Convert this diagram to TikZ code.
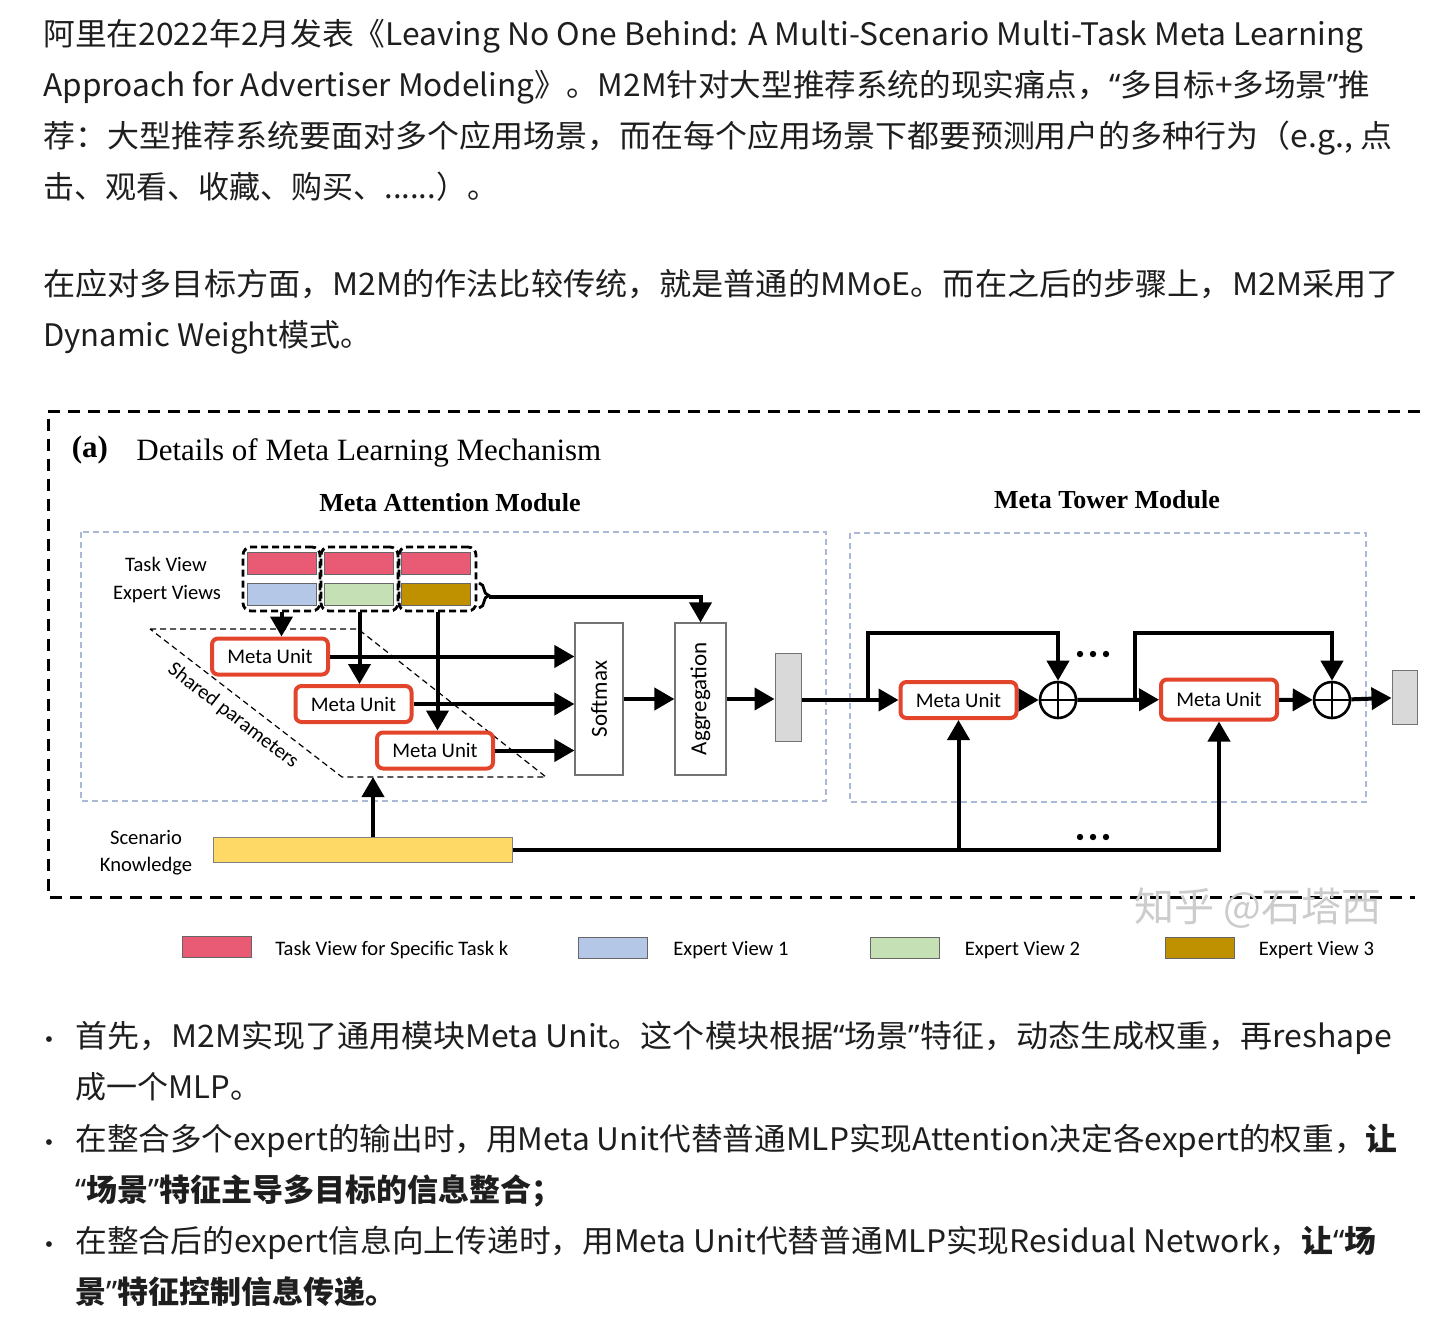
\documentclass[tikz,border=0pt]{standalone}
\usepackage{fontspec}
\usepackage{graphicx}
\setmainfont{Liberation Serif}
\newfontfamily\cjk{Noto Sans CJK SC}
\newfontfamily\latinq{Noto Sans}
\newfontfamily\carlito{Carlito}
\usetikzlibrary{arrows.meta, decorations.pathreplacing, positioning, calc}
\definecolor{taskpink}{HTML}{E95B74}
\definecolor{expblue}{HTML}{B4C7E7}
\definecolor{expgreen}{HTML}{C5E0B4}
\definecolor{expgold}{HTML}{BF9000}
\definecolor{scenyellow}{HTML}{FFD966}
\definecolor{unitred}{HTML}{E2452C}
\definecolor{modblue}{HTML}{A9B9D6}
\definecolor{bargray}{HTML}{D9D9D9}
\definecolor{inktext}{HTML}{1E1E1E}
\newcommand{\fitline}[2]{\resizebox{#1}{\height}{#2}}
\newcommand{\oq}{{\latinq“}}
\newcommand{\cq}{{\latinq”}}

\begin{document}
\begin{tikzpicture}[
  x=0.5pt, y=-0.5pt,
  node distance=12pt,
  para/.style={anchor=base west, inner sep=0pt, text=inktext,
               font=\cjk\fontsize{15.5pt}{18pt}\selectfont},
  dotmark/.style={anchor=base, inner sep=0pt, text=inktext,
                  font=\fontsize{12pt}{12pt}\selectfont},
  lab/.style={font=\carlito\fontsize{10.3pt}{13.5pt}\selectfont,
              inner sep=0pt, align=center},
  view/.style={draw=black!60, line width=0.4pt, minimum width=34.5pt,
               minimum height=11pt, inner sep=0pt},
  viewgroup/.style={draw, line width=1.4pt, dash pattern=on 3.5pt off 2pt,
                    rounded corners=4pt, minimum width=38.5pt,
                    minimum height=32pt, inner sep=0pt},
  unit/.style={draw=unitred, line width=2pt, fill=white, rounded corners=3pt,
               minimum width=58pt, minimum height=18pt, inner sep=0pt,
               font=\carlito\fontsize{10.4pt}{12pt}\selectfont},
  stage/.style={draw=black!55, line width=0.6pt, rotate=90,
                minimum width=76pt, inner sep=0pt,
                font=\carlito\fontsize{11.5pt}{13pt}\selectfont},
  bar/.style={draw=black!55, line width=0.5pt, fill=bargray, inner sep=0pt},
  addop/.style={circle, draw, line width=1.3pt, minimum size=18pt,
                inner sep=0pt,
                path picture={\draw[line width=1.3pt]
                  (path picture bounding box.north) -- (path picture bounding box.south)
                  (path picture bounding box.west) -- (path picture bounding box.east);}},
  arr/.style={-{Triangle[length=10pt,width=11pt]}, line width=2pt},
  modbox/.style={draw=modblue, line width=0.6pt, dash pattern=on 3pt off 2pt},
  outerframe/.style={line width=1.5pt, dash pattern=on 6pt off 4pt},
  legendbox/.style={draw=black!60, line width=0.4pt, minimum width=34.5pt,
                    minimum height=10.5pt, inner sep=0pt}
]
\fill[white] (0,0) rectangle (1450,1342);
\useasboundingbox (0,0) rectangle (1450,1342);

% first paragraph
\node[para] (p1a) at (43,45.5) {\fitline{660pt}{阿里在2022年2月发表《Leaving No One Behind: A Multi-Scenario Multi-Task Meta Learning}};
\node[para] (p1b) at (43,96.5) {\fitline{663.5pt}{Approach for Advertiser Modeling》。M2M针对大型推荐系统的现实痛点，\oq 多目标+多场景\cq 推}};
\node[para] (p1c) at (43,147.5) {\fitline{674.5pt}{荐：大型推荐系统要面对多个应用场景，而在每个应用场景下都要预测用户的多种行为（e.g., 点}};
\node[para] (p1d) at (43,198.5) {击、观看、收藏、购买、......）。};

% second paragraph
\node[para] (p2a) at (43,295.5) {\fitline{677.5pt}{在应对多目标方面，M2M的作法比较传统，就是普通的MMoE。而在之后的步骤上，M2M采用了}};
\node[para] (p2b) at (43,346.5) {Dynamic Weight模式。};

% figure frame and titles
\draw[outerframe] (1420,411) -- (48,411) -- (48,897) -- (1415,897);
\node[inner sep=0pt, font=\bfseries\fontsize{15.5pt}{18pt}\selectfont] (tag) at (90,450) {(a)};
\node[anchor=west, inner sep=0pt, font=\fontsize{15.5pt}{18pt}\selectfont] (title) at (136,453) {Details of Meta Learning Mechanism};
\node[inner sep=0pt, font=\bfseries\fontsize{13pt}{15pt}\selectfont] (mam) at (450,503) {Meta Attention Module};
\node[inner sep=0pt, font=\bfseries\fontsize{13pt}{15pt}\selectfont] (mtm) at (1107,500) {Meta Tower Module};
\draw[modbox] (81,532) rectangle (826,801);
\draw[modbox] (850,533) rectangle (1366,802);

% task / expert views
\node[lab] (tvl) at (166,564) {Task View};
\node[lab] (evl) at (167,594) {Expert Views};
\node[view, fill=taskpink] (t1) at (281.5,563) {};
\node[view, fill=taskpink] (t2) at (358.5,563) {};
\node[view, fill=taskpink] (t3) at (436,563) {};
\node[view, fill=expblue] (e1) at (281.5,594.5) {};
\node[view, fill=expgreen] (e2) at (358.5,594.5) {};
\node[view, fill=expgold] (e3) at (436,594.5) {};
\node[viewgroup] (g1) at (281.5,579) {};
\node[viewgroup] (g2) at (359.5,579) {};
\node[viewgroup] (g3) at (437.5,579) {};
\draw[decorate, decoration={brace, amplitude=5pt}, line width=1.4pt] (479,583) -- (479,608);
\coordinate (brtip) at (489,597);

% shared meta units
\draw[line width=0.6pt, dash pattern=on 3pt off 2pt] (150,629) -- (358,629) -- (546,777) -- (342,777) -- cycle;
\node[lab, rotate=-37.6] (shared) at (233,716) {Shared parameters};
\node[unit] (mu1) at (270,656.5) {Meta Unit};
\node[unit] (mu2) at (353.5,704) {Meta Unit};
\node[unit] (mu3) at (435,750.5) {Meta Unit};

\node[stage, minimum height=24pt] (sm) at (599,699) {Softmax};
\node[stage, minimum height=25.5pt] (agg) at (700.5,699) {Aggregation};
\node[bar, minimum width=13pt, minimum height=44pt] (bar1) at (788,697) {};

\draw[arr] (g1.south) -- (g1.south |- mu1.north);
\draw[arr] (g2.south) -- (g2.south |- mu2.north);
\draw[arr] (g3.south) -- (g3.south |- mu3.north);
\draw[arr] (mu1.east) -- (mu1.east -| sm.north);
\draw[arr] (mu2.east) -- (mu2.east -| sm.north);
\draw[arr] (mu3.east) -- (mu3.east -| sm.north);
\draw[arr] (sm.south) -- (sm.south -| agg.north);
\draw[arr] (agg.south) -- (agg.south -| bar1.west);
\draw[arr] (brtip) -| (agg.east);

% meta tower
\node[unit] (mt1) at (958.5,700) {Meta Unit};
\node[addop] (op1) at (1058,700) {};
\node[unit, minimum height=20pt] (mt2) at (1219,699.5) {Meta Unit};
\node[addop] (op2) at (1332,700) {};
\node[bar, minimum width=12.5pt, minimum height=27pt] (bar2) at (1404.5,697.5) {};
\coordinate (s1) at (868,700);
\coordinate (s2) at (1135,700);

\draw[arr] (bar1.east |- mt1.west) -- (mt1.west);
\draw[arr] (s1) -- ++(0,-67) -| (op1.north);
\draw[arr] (mt1) -- (op1);
\draw[arr] (op1) -- (mt2);
\draw[arr] (s2) -- ++(0,-67) -| (op2.north);
\draw[arr] (mt2) -- (op2);
\draw[arr] (op2) -- (bar2);
\foreach \dx in {1080,1093,1106} \fill (\dx,654) circle (1.6pt);

% scenario knowledge
\node[lab] (skl) at (146,853) {Scenario\\Knowledge};
\node[draw=black!50, line width=0.5pt, fill=scenyellow, minimum width=149.5pt,
      minimum height=12.5pt, inner sep=0pt] (sk) at (362.5,850) {};
\coordinate (pbot) at (373,777);
\draw[arr] (pbot |- sk.north) -- (pbot);
\draw[arr] (sk.east) -| (mt2.south);
\draw[arr] (mt1.south |- sk.east) -- (mt1.south);
\foreach \dx in {1080,1093,1106} \fill (\dx,837) circle (1.6pt);

% watermark
\node[font=\cjk\fontsize{20pt}{22pt}\selectfont, text=black!20] (wm) at (1258,908) {知乎 @石塔西};

% legend
\node[legendbox, fill=taskpink] (lg1) at (217,947) {};
\node[lab, right=11.5pt of lg1, yshift=-1.5pt] (lgt1) {Task View for Specific Task k};
\node[legendbox, fill=expblue] (lg2) at (613,947.5) {};
\node[lab, right=12.5pt of lg2, yshift=-1.5pt] (lgt2) {Expert View 1};
\node[legendbox, fill=expgreen] (lg3) at (904.5,947.5) {};
\node[lab, right=12.5pt of lg3, yshift=-1.5pt] (lgt3) {Expert View 2};
\node[legendbox, fill=expgold] (lg4) at (1199.5,947.5) {};
\node[lab, right=12pt of lg4, yshift=-1.5pt] (lgt4) {Expert View 3};

% bullet list
\node[dotmark] (d1) at (49,1047.5) {\textbullet};
\node[para] (b1a) at (75,1047.5) {\fitline{658.5pt}{首先，M2M实现了通用模块Meta Unit。这个模块根据\oq 场景\cq 特征，动态生成权重，再reshape}};
\node[para] (b1b) at (75,1098.5) {成一个MLP。};
\node[dotmark] (d2) at (49,1150.5) {\textbullet};
\node[para] (b2a) at (75,1150.5) {\fitline{661pt}{在整合多个expert的输出时，用Meta Unit代替普通MLP实现Attention决定各expert的权重，\bfseries 让}};
\node[para, font=\cjk\bfseries\fontsize{15.5pt}{18pt}\selectfont] (b2b) at (75,1201.5) {\oq 场景\cq 特征主导多目标的信息整合；};
\node[dotmark] (d3) at (49,1252.5) {\textbullet};
\node[para] (b3a) at (75,1252.5) {\fitline{650.5pt}{在整合后的expert信息向上传递时，用Meta Unit代替普通MLP实现Residual Network，\bfseries 让\oq 场}};
\node[para, font=\cjk\bfseries\fontsize{15.5pt}{18pt}\selectfont] (b3b) at (75,1303.5) {景\cq 特征控制信息传递。};
\end{tikzpicture}
\end{document}
